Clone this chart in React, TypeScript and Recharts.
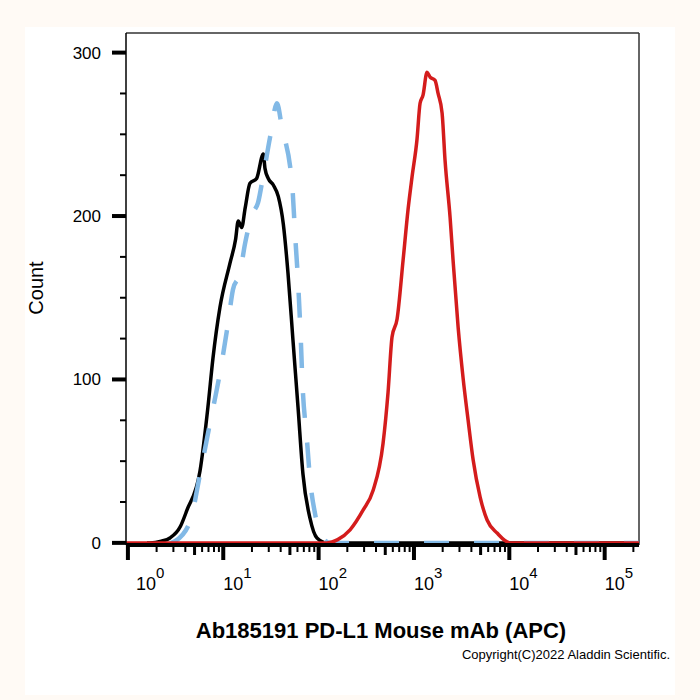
import React from 'react';
import { LineChart, Line, XAxis, YAxis, ReferenceLine } from 'recharts';

// x values are log10 of fluorescence intensity, y values are event counts
const isotypeLogX = [0.2, 0.231, 0.35, 0.441, 0.55, 0.619, 0.756, 0.839, 0.892, 0.965, 1.07, 1.13, 1.157, 1.193, 1.23, 1.28, 1.35, 1.42, 1.438, 1.472, 1.525, 1.577, 1.63, 1.679, 1.731, 1.784, 1.836, 1.91, 1.983, 2.088, 5.36];
const isotypeCount = [0, 0, 1, 3, 10, 20, 44, 83, 113, 144, 171, 186, 197, 193, 205, 220, 223, 238, 229, 223, 219, 212, 195, 165, 124, 83, 42, 15, 3, 0, 0];

const blankLogX = [0.45, 0.493, 0.651, 0.756, 0.86, 0.965, 1.049, 1.102, 1.175, 1.228, 1.312, 1.364, 1.417, 1.49, 1.563, 1.613, 1.724, 1.752, 1.787, 1.812, 1.833, 1.875, 1.91, 1.962, 2.046, 2.12, 5.36];
const blankCount = [0, 1, 13, 42, 73, 104, 134, 155, 165, 183, 202, 208, 224, 248, 269, 255, 218, 190, 157, 126, 95, 65, 39, 18, 3, 0, 0];

const stainedLogX = [-0.02, 2.088, 2.2, 2.33, 2.466, 2.571, 2.676, 2.728, 2.77, 2.823, 2.886, 2.938, 2.98, 3.032, 3.064, 3.095, 3.137, 3.169, 3.221, 3.253, 3.295, 3.326, 3.379, 3.41, 3.463, 3.515, 3.568, 3.62, 3.694, 3.767, 3.872, 4.008, 5.36];
const stainedCount = [0, 0, 2, 8, 20, 32, 61, 92, 126, 137, 173, 204, 224, 247, 269, 274, 288, 285, 283, 275, 263, 234, 199, 173, 132, 101, 75, 51, 28, 14, 6, 0, 0];

const decades = [0, 1, 2, 3, 4, 5];
const minorSteps = [2, 3, 4, 5, 6, 7, 8, 9];
const countTicks = [0, 25, 50, 75, 100, 125, 150, 175, 200, 225, 250, 275, 300];

const X_MIN = -0.02;
const X_MAX = 5.36;
const Y_MIN = -1.3;
const Y_MAX = 312;

const toPoints = (xs: number[], ys: number[]) => xs.map((x, i) => ({ x, y: ys[i] }));

const logTicks: number[] = [];
decades.forEach((d) => {
  logTicks.push(d);
  minorSteps.forEach((k) => {
    const v = d + Math.log10(k);
    if (v <= X_MAX) logTicks.push(v);
  });
});

const FONT = '"Liberation Sans", Arial, sans-serif';

const XTick = (props: any) => {
  const { x, y, payload } = props;
  const v = payload.value;
  const d = Math.round(v);
  const isMajor = Math.abs(v - d) < 1e-6;
  const frac = v - Math.floor(v + 1e-9);
  const isMid = Math.abs(frac - Math.log10(5)) < 1e-6;
  const len = isMajor ? 15 : isMid ? 10 : 7;
  const w = isMajor ? 4 : isMid ? 3 : 2;
  return (
    <g>
      <line x1={x} x2={x} y1={y} y2={y + len} stroke='#000' strokeWidth={w} />
      {isMajor && (
        <text x={x + (d === 0 ? 8 : 0)} y={y + 45} fontSize={18} fontFamily={FONT} fill='#000' textAnchor='start'>
          10
          <tspan dy={-12} fontSize={15}>
            {d}
          </tspan>
        </text>
      )}
    </g>
  );
};

const YTick = (props: any) => {
  const { x, y, payload } = props;
  const v = payload.value;
  const isMajor = v % 100 === 0;
  return (
    <g>
      <line x1={x - (isMajor ? 14 : 6)} x2={x} y1={y} y2={y} stroke='#000' strokeWidth={isMajor ? 4 : 2} />
      {isMajor && (
        <text x={x - 25} y={y + 6} fontSize={17} fontFamily={FONT} fill='#000' textAnchor='end'>
          {v}
        </text>
      )}
    </g>
  );
};

const App = () => {
  return (
    <div style={{ position: 'absolute', left: 0, top: 0, width: 700, height: 700, background: '#fffaf5' }}>
      <div style={{ position: 'absolute', left: 25, top: 27, width: 650, height: 668, background: '#ffffff' }} />
      <div style={{ position: 'absolute', left: 0, top: 0 }}>
        <LineChart width={700} height={700} margin={{ top: 33, right: 61, bottom: 125, left: 66 }}>
          <XAxis
            type='number'
            dataKey='x'
            domain={[X_MIN, X_MAX]}
            ticks={logTicks}
            interval={0}
            tick={<XTick />}
            tickLine={false}
            tickSize={0}
            tickMargin={0}
            height={30}
            axisLine={{ stroke: '#000', strokeWidth: 4 }}
            allowDataOverflow
          />
          <YAxis
            type='number'
            dataKey='y'
            domain={[Y_MIN, Y_MAX]}
            ticks={countTicks}
            interval={0}
            tick={<YTick />}
            tickLine={false}
            tickSize={0}
            tickMargin={0}
            width={60}
            axisLine={{ stroke: '#000', strokeWidth: 1.5 }}
            allowDataOverflow
          />
          <ReferenceLine y={Y_MAX} stroke='#333' strokeWidth={1.5} ifOverflow='visible' />
          <ReferenceLine x={X_MAX} stroke='#333' strokeWidth={1.5} ifOverflow='visible' />
          <Line
            data={toPoints(isotypeLogX, isotypeCount)}
            dataKey='y'
            type='monotone'
            stroke='#000000'
            strokeWidth={3.5}
            strokeLinejoin='round'
            dot={false}
            isAnimationActive={false}
          />
          <Line
            data={toPoints(blankLogX, blankCount)}
            dataKey='y'
            type='monotone'
            stroke='#82b9e6'
            strokeWidth={4.5}
            strokeDasharray='25 25'
            dot={false}
            isAnimationActive={false}
          />
          <Line
            data={toPoints(stainedLogX, stainedCount)}
            dataKey='y'
            type='monotone'
            stroke='#d41c1c'
            strokeWidth={3.5}
            strokeLinejoin='round'
            dot={false}
            isAnimationActive={false}
          />
        </LineChart>
      </div>
      <svg width={700} height={700} style={{ position: 'absolute', left: 0, top: 0, pointerEvents: 'none' }}>
        <text x={43} y={288} transform='rotate(-90, 43, 288)' textAnchor='middle' fontSize={20} fontFamily={FONT} fill='#000'>
          Count
        </text>
        <text x={381} y={638} textAnchor='middle' fontSize={22} fontWeight='bold' fontFamily={FONT} fill='#000'>
          Ab185191 PD-L1 Mouse mAb (APC)
        </text>
        <text x={670} y={659} textAnchor='end' fontSize={13} fontFamily={FONT} fill='#000'>
          Copyright(C)2022 Aladdin Scientific.
        </text>
      </svg>
    </div>
  );
};

export default App;
